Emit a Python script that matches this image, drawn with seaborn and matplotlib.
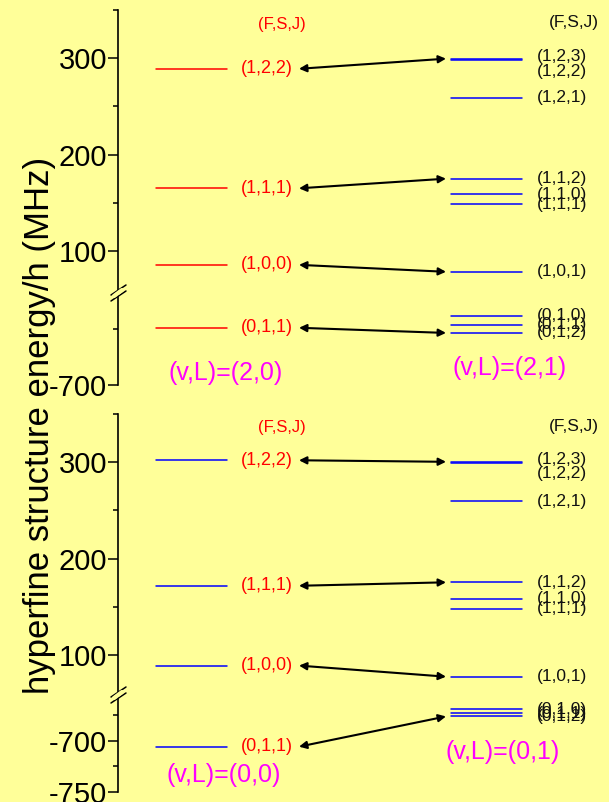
import numpy as np
import pandas as pd
import matplotlib.pyplot as plt
import seaborn as sns
from matplotlib.lines import Line2D
from matplotlib.ticker import FixedLocator

# ---- data (MHz) ----
left_labels = ['(1,2,2)', '(1,1,1)', '(1,0,0)', '(0,1,1)']
right_labels = ['(1,2,3)', '(1,2,2)', '(1,2,1)', '(1,1,2)', '(1,1,0)', '(1,1,1)',
                '(1,0,1)', '(0,1,0)', '(0,1,1)', '(0,1,2)']

# (v,L)=(2,0) and (2,1)
e20 = [289, 165, 85.6, -649]
e21 = [299.5, 298.0, 259, 175, 158.8, 148.5, 78.4, -638.4, -646.4, -653.6]
# (v,L)=(0,0) and (0,1)
e00 = [302, 171.8, 89, -705.6]
e01 = [300.4, 299.4, 259.6, 175.4, 158.5, 148, 77.5, -669, -673, -676]

# right-hand level each arrow points at
arrow_to = [0, 3, 6, 9]

# ---- style ----
bg = '#FFFF99'
W, H = 609, 802
right_off = [1.5, -8, 0, 0, 0, 0, 0, 0, 0, 0]   # label nudges in points

sns.set_theme(style='ticks', rc={'figure.facecolor': bg, 'axes.facecolor': bg,
                                 'axes.edgecolor': 'black', 'ytick.color': 'black',
                                 'axes.unicode_minus': False})
plt.rcParams['font.family'] = ['Liberation Sans', 'DejaVu Sans']

fig = plt.figure(figsize=(W / 100, H / 100), dpi=100)


def px_axes(top, bot):
    ax = fig.add_axes([118 / W, 1 - bot / H, 1 - 118 / W, (bot - top) / H])
    ax.set_facecolor('none')
    return ax


def ftext(x, y, s, **kw):
    fig.text(x / W, 1 - y / H, s, ha='center', va='center', **kw)


def draw_levels(ax_hi, ax_lo, energies, x0, x1, color):
    rows = []
    for i, e in enumerate(energies):
        rows += [dict(x=x0, E=e, u=i), dict(x=x1, E=e, u=i)]
    df = pd.DataFrame(rows)
    for ax, part in ((ax_hi, df[df.E > 0]), (ax_lo, df[df.E < 0])):
        if len(part):
            sns.lineplot(data=part, x='x', y='E', units='u', estimator=None,
                         color=color, lw=1.1, ax=ax, legend=False)


def break_mark(y):
    for dy in (-3, 3):
        fig.add_artist(Line2D([111 / W, 126 / W], [1 - (y + dy + 5) / H, 1 - (y + dy - 5) / H],
                              transform=fig.transFigure, color='black', lw=1.1))
    fig.add_artist(Line2D([114 / W, 122 / W], [1 - (y + 3) / H, 1 - (y - 3) / H],
                          transform=fig.transFigure, color=bg, lw=3))


panels = [
    dict(px=(10, 293, 385), hi=(56.4, 350), lo=(-700, -618), lo_major=[-700], lo_minor=[-650],
         left=e20, right=e21, lcol='red', names=('(v,L)=(2,0)', '(v,L)=(2,1)'),
         name_pos=((226, 373), (510, 368)), fsj_y=24),
    dict(px=(414, 695, 792), hi=(58.5, 350), lo=(-750, -655), lo_major=[-750, -700],
         lo_minor=[-725, -675], left=e00, right=e01, lcol='blue',
         names=('(v,L)=(0,0)', '(v,L)=(0,1)'), name_pos=((224, 775), (503, 752)), fsj_y=428),
]

for p in panels:
    top, mid, bot = p['px']
    ax_hi = px_axes(top, mid)
    ax_lo = px_axes(mid, bot)

    draw_levels(ax_hi, ax_lo, p['left'], 156, 227, p['lcol'])
    draw_levels(ax_hi, ax_lo, p['right'], 451, 522, 'blue')

    for lab, e in zip(left_labels, p['left']):
        ax = ax_hi if e > 0 else ax_lo
        ax.text(241, e, lab, color='red', fontsize=13, ha='left', va='center')
    for lab, e, off in zip(right_labels, p['right'], right_off):
        ax = ax_hi if e > 0 else ax_lo
        ax.annotate(lab, (537, e), xytext=(0, off), textcoords='offset points',
                    color='#111111', fontsize=12.5, ha='left', va='center')
    for e, j in zip(p['left'], arrow_to):
        er = p['right'][j]
        ax = ax_hi if e > 0 else ax_lo
        ax.annotate('', xy=(446, er), xytext=(299, e),
                    arrowprops=dict(arrowstyle='<|-|>', color='black', lw=1.5,
                                    mutation_scale=11, shrinkA=0, shrinkB=0))

    for ax, lim in ((ax_hi, p['hi']), (ax_lo, p['lo'])):
        ax.set_xlim(118, W)
        ax.set_ylim(*lim)
        ax.set_xticks([])
        ax.set_xlabel('')
        ax.set_ylabel('')
        sns.despine(ax=ax, bottom=True)
        ax.spines['left'].set_linewidth(1.2)
        ax.tick_params(axis='y', which='major', length=7, width=1.1, pad=1, labelsize=21)
        ax.tick_params(axis='y', which='minor', length=3.5, width=1.1)
    ax_hi.yaxis.set_major_locator(FixedLocator([100, 200, 300]))
    ax_hi.yaxis.set_minor_locator(FixedLocator([150, 250, 350]))
    ax_lo.yaxis.set_major_locator(FixedLocator(p['lo_major']))
    ax_lo.yaxis.set_minor_locator(FixedLocator(p['lo_minor']))

    break_mark(mid)
    ftext(282, p['fsj_y'], '(F,S,J)', color='red', fontsize=12)
    ftext(574, p['fsj_y'] - 2, '(F,S,J)', color='#111111', fontsize=12.5)
    for s, (x, y) in zip(p['names'], p['name_pos']):
        ftext(x, y, s, color='#FF00FF', fontsize=18)

ftext(40, 425, 'hyperfine structure energy/h (MHz)', rotation=90, fontsize=25, color='black')

fig.savefig('out.png', dpi=100, facecolor=bg)
